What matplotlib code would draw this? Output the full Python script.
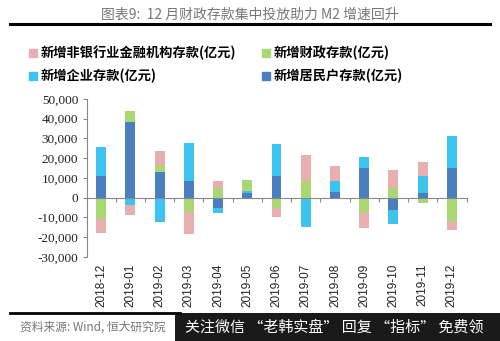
import numpy as np
import matplotlib
matplotlib.use("Agg")
import matplotlib.pyplot as plt
from matplotlib.lines import Line2D
from matplotlib.patches import Rectangle, Patch

plt.rcParams['font.family'] = ['Noto Sans CJK SC', 'DejaVu Sans']

months = ["2018-12", "2019-01", "2019-02", "2019-03", "2019-04", "2019-05", "2019-06",
          "2019-07", "2019-08", "2019-09", "2019-10", "2019-11", "2019-12"]
household = [11000, 38200, 12800, 8400, -5400, 2400, 11000, -300, 2900, 15200, -6100, 2400, 14900]
corporate = [14800, -3700, -12200, 19500, -2500, 1000, 16100, -14800, 5500, 5400, -7100, 8400, 16400]
fiscal = [-11000, 5700, 3800, -7100, 5100, 5400, -5100, 8400, -200, -7100, 4600, -2700, -12100]
nonbank = [-7100, -5300, 7000, -11300, 3300, 0, -4700, 13100, 7500, -8100, 9600, 7200, -4300]

names = ["新增居民户存款(亿元)", "新增企业存款(亿元)", "新增财政存款(亿元)", "新增非银行业金融机构存款(亿元)"]
colors = ["#4A7EBE", "#3CC3F0", "#A9D873", "#E7AFAE"]
series = [household, corporate, fiscal, nonbank]

fig = plt.figure(figsize=(5.0, 3.41), dpi=100)
ax = fig.add_axes([0.173, 0.247, 0.760, 0.463])

x = np.arange(len(months))
pos_base = np.zeros(len(months))
neg_base = np.zeros(len(months))
for vals, col, nm in zip(series, colors, names):
    v = np.array(vals, dtype=float)
    bottom = np.where(v >= 0, pos_base, neg_base)
    ax.bar(x, v, width=0.34, bottom=bottom, color=col, edgecolor='none', zorder=2)
    pos_base = pos_base + np.where(v > 0, v, 0)
    neg_base = neg_base + np.where(v < 0, v, 0)

ax.set_xlim(-0.5, len(months) - 0.5)
ax.set_ylim(-30000, 50000)
yt = np.arange(-30000, 50001, 10000)
ax.set_yticks(yt)
ax.set_yticklabels([f"{int(t):,}" for t in yt],
                   family='Liberation Serif', fontsize=9.5, color='#222222')
ax.tick_params(axis='y', length=3, color='#888888', pad=3)

for s in ['top', 'right']:
    ax.spines[s].set_visible(False)
ax.spines['left'].set_color('#888888')
ax.spines['bottom'].set_position(('data', 0))
ax.spines['bottom'].set_color('#888888')
ax.spines['bottom'].set_zorder(3)
ax.set_xticks(np.arange(-0.5, len(months), 1.0))
ax.tick_params(axis='x', length=3, color='#888888', labelbottom=False, direction='out')

sec = ax.secondary_xaxis(0.0)
sec.set_xticks(x)
sec.set_xticklabels(months, rotation=90, family='Liberation Sans', fontsize=8.5, color='#222222')
sec.tick_params(length=0, pad=5)
sec.spines['bottom'].set_visible(False)

order = ["新增非银行业金融机构存款(亿元)", "新增企业存款(亿元)", "新增财政存款(亿元)", "新增居民户存款(亿元)"]
leg_handles = [Patch(color=colors[names.index(n)]) for n in order]
fig.legend(leg_handles, order, loc='upper left', bbox_to_anchor=(0.035, 0.9), ncol=2,
           frameon=False, handlelength=0.55, handleheight=0.55,
           handletextpad=0.3, columnspacing=2.0, labelspacing=0.65,
           prop={'family': ['Noto Sans CJK SC', 'DejaVu Sans'], 'size': 9.5, 'weight': 'bold'})

fig.text(0.5, 0.958, "图表9:  12 月财政存款集中投放助力 M2 增速回升", ha='center', va='center',
         fontsize=10, color='#777777')
fig.add_artist(Line2D([0.02, 0.98], [0.93, 0.93], transform=fig.transFigure, color='black', lw=2.2))
fig.add_artist(Line2D([0.02, 0.36], [0.082, 0.082], transform=fig.transFigure, color='black', lw=2.0))
fig.text(0.04, 0.04, "资料来源: Wind, 恒大研究院", ha='left', va='center', fontsize=8.5,
         color='#777777', style='italic')
fig.add_artist(Rectangle((0.35, 0.0), 0.65, 0.082, transform=fig.transFigure,
                         facecolor='#1a1a1a', edgecolor='none'))
fig.text(0.37, 0.04, "关注微信 “老韩实盘” 回复 “指标” 免费领", ha='left', va='center',
         fontsize=10.8, color='white')

fig.savefig("out.png", dpi=100)
